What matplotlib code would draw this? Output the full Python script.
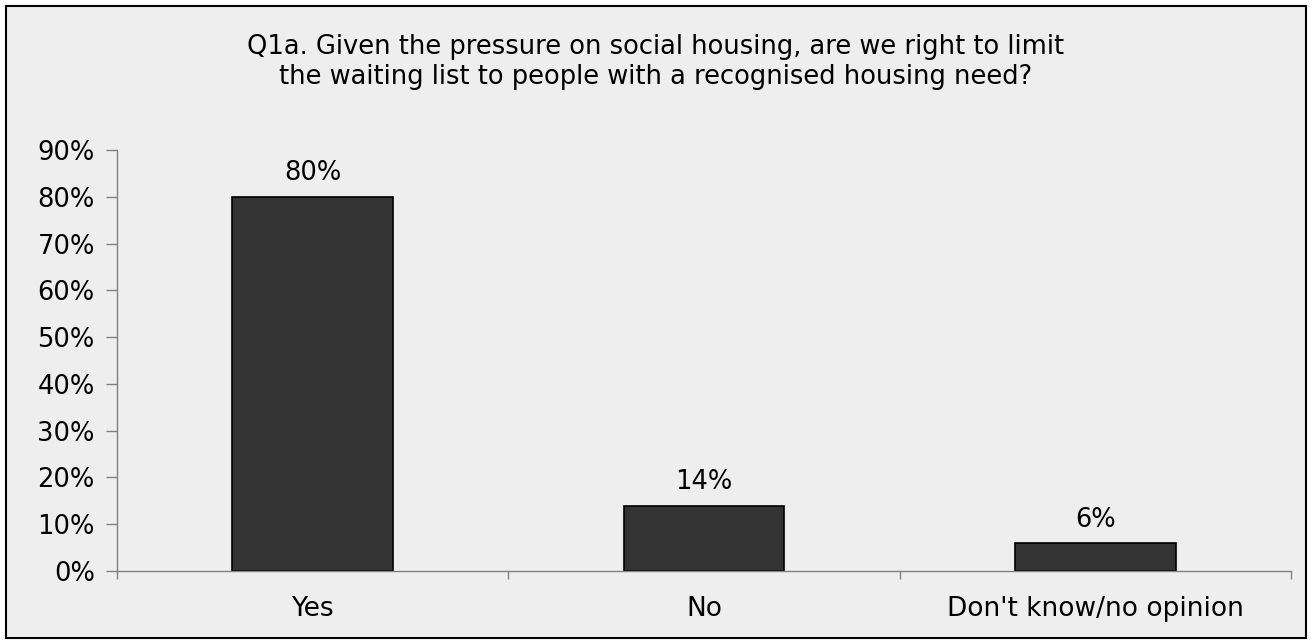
import matplotlib.pyplot as plt
from matplotlib.patches import Rectangle
from matplotlib.ticker import FuncFormatter

plt.rcParams['font.family'] = ['DejaVu Sans']

# --- Data ---
categories = ['Yes', 'No', "Don't know/no opinion"]
values = [80, 14, 6]
title = ('Q1a. Given the pressure on social housing, are we right to limit\n'
         'the waiting list to people with a recognised housing need?')

# --- Plotting ---
fig = plt.figure(figsize=(13.12, 6.44), dpi=100)
fig.patch.set_facecolor('white')
# grey panel with black frame
fig.patches.append(Rectangle((6 / 1312, 6 / 644), 1300 / 1312, 632 / 644,
                             transform=fig.transFigure, facecolor='#EEEEEE',
                             edgecolor='black', lw=1.5, zorder=0))

ax = fig.add_axes([117 / 1312, 73 / 644, 1174 / 1312, 421 / 644])
ax.set_zorder(2)
ax.set_facecolor('none')

x = range(len(categories))
bars = ax.bar(x, values, width=0.41, color='#333333', edgecolor='black', lw=1.2)
for b, v in zip(bars, values):
    ax.text(b.get_x() + b.get_width() / 2, v + 2.2, f'{v}%',
            ha='center', va='bottom', fontsize=18.5)

ax.set_xlim(-0.5, 2.5)
ax.set_ylim(0, 90)
ax.set_yticks(range(0, 91, 10))
ax.yaxis.set_major_formatter(FuncFormatter(lambda v, p: f'{v:.0f}%'))
ax.tick_params(axis='y', direction='out', length=8, width=1, color='#808080',
               labelsize=18.5, pad=8)

ax.set_xticks(list(x))
ax.set_xticklabels(categories, fontsize=19)
ax.set_xticks([-0.5, 0.5, 1.5, 2.5], minor=True)
ax.tick_params(axis='x', which='major', length=0, pad=18)
ax.tick_params(axis='x', which='minor', direction='out', length=6, width=1,
               color='#808080')

for s in ['top', 'right']:
    ax.spines[s].set_visible(False)
for s in ['left', 'bottom']:
    ax.spines[s].set_color('#808080')
    ax.spines[s].set_linewidth(1)

fig.text(0.5, 0.904, title, ha='center', va='center', fontsize=18.5,
         linespacing=1.17, zorder=3)

fig.savefig('out.png', dpi=100)
